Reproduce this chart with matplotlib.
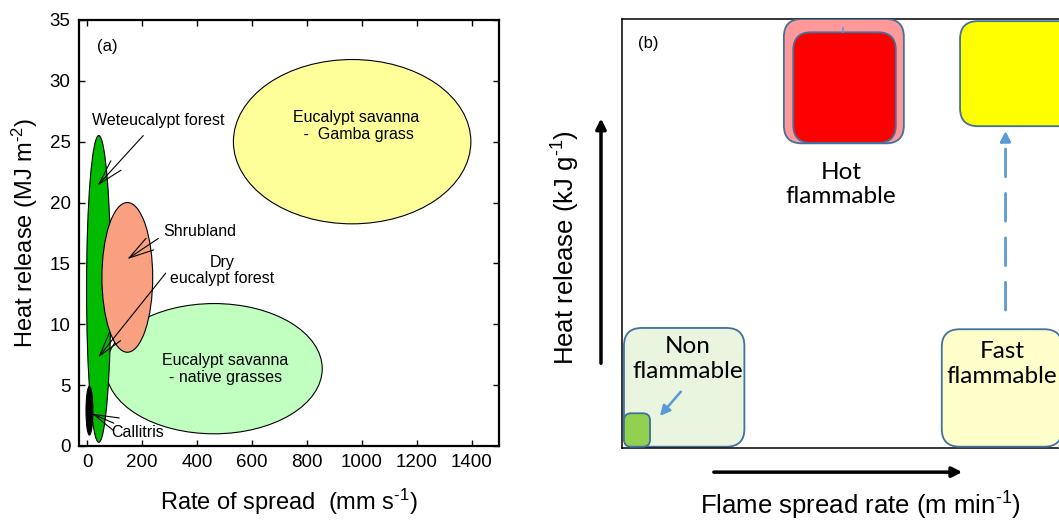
import matplotlib
matplotlib.use('Agg')
import matplotlib.pyplot as plt
from matplotlib.patches import Ellipse, FancyBboxPatch

plt.rcParams['font.family'] = ['Liberation Sans', 'DejaVu Sans']
plt.rcParams['mathtext.fontset'] = 'custom'
plt.rcParams['mathtext.rm'] = 'Liberation Sans'
plt.rcParams['mathtext.default'] = 'regular'

# ---- panel (a) data: ellipses (centre x, centre y, width, height, colour)
veg_names = ['Eucalypt savanna\n -  Gamba grass', 'Eucalypt savanna\n- native grasses',
             'Weteucalypt forest', 'Shrubland', 'Callitris']
ell_x = [965, 462, 42, 146, 8]
ell_y = [25.0, 6.35, 12.9, 13.85, 2.9]
ell_w = [865, 788, 89, 185, 25]
ell_h = [13.5, 10.7, 25.2, 12.3, 4.0]
ell_col = ['#FFFF99', '#C0FFC0', '#00BB00', '#F9A080', '#000000']
ell_order = [0, 1, 2, 3, 4]

# labels with arrows: text x, text y, arrow tail, arrow tip
lab_text = ['Weteucalypt forest', 'Shrubland', 'Dry\neucalypt forest', 'Callitris']
lab_x = [257, 411, 492, 183]
lab_y = [26.7, 17.6, 14.4, 1.1]
tail_x = [204, 259, 286, 97]
tail_y = [25.5, 17.05, 14.2, 1.87]
tip_x = [38, 146, 40, 16]
tip_y = [21.4, 15.35, 7.27, 2.66]

xticks_a = [0, 200, 400, 600, 800, 1000, 1200, 1400]
yticks_a = [0, 5, 10, 15, 20, 25, 30, 35]

# ---- panel (b) data: rounded boxes (x0, y0, width, height, face)
box_x = [0.45, 0.45, 36.3, 38.4, 75.8, 71.7]
box_y = [0.23, 0.23, 71.0, 71.1, 75.0, 0.23]
box_w = [27.0, 5.85, 26.9, 23.0, 27.0, 27.0]
box_h = [27.7, 7.8, 29.0, 25.8, 24.5, 27.4]
box_col = ['#E9F5DF', '#92D050', '#FF9999', '#FF0000', '#FFFF00', '#FFFFCC']
box_text = ['Non\nflammable', 'Hot\nflammable', 'Fast\nflammable']
btext_x = [14.7, 49.1, 85.2]
btext_y = [20.7, 61.4, 19.5]

sup = lambda s: r'$^{\text{' + s + '}}$'

fig = plt.figure(figsize=(10.59, 5.21), dpi=100)

# ================= panel (a)
ax = fig.add_axes([0.0746, 0.1440, 0.3966, 0.8177])
for i in ell_order:
    ax.add_patch(Ellipse((ell_x[i], ell_y[i]), ell_w[i], ell_h[i],
                         facecolor=ell_col[i], edgecolor='black', lw=0.8, zorder=2 + i))
ax.text(ell_x[0] + 16, ell_y[0] + 1.3, veg_names[0], ha='center', va='center',
        fontsize=11.5, linespacing=1.15, zorder=10)
ax.text(503, 6.3, veg_names[1], ha='center', va='center', fontsize=11.5,
        linespacing=1.15, zorder=10)

for i in range(len(lab_text)):
    ax.text(lab_x[i], lab_y[i], lab_text[i], ha='center', va='center',
            fontsize=11.5, linespacing=1.1, zorder=10)
    ax.annotate('', xy=(tip_x[i], tip_y[i]), xytext=(tail_x[i], tail_y[i]),
                arrowprops=dict(arrowstyle='->,head_length=1.8,head_width=0.5',
                                lw=0.8, color='black', mutation_scale=10,
                                shrinkA=0, shrinkB=0), zorder=11)

ax.text(73, 32.8, '(a)', ha='center', va='center', fontsize=12)
ax.set_xlim(-30, 1500)
ax.set_ylim(0, 35)
ax.set_xticks(xticks_a)
ax.set_yticks(yticks_a)
ax.tick_params(direction='in', length=4, width=1, top=True, right=True,
               labelsize=13.5, pad=6)
for s in ax.spines.values():
    s.set_linewidth(1.6)
ax.set_xlabel('Rate of spread  (mm s' + sup('-1') + ')', fontsize=17, labelpad=11)
ax.set_ylabel('Heat release (MJ m' + sup('-2') + ')', fontsize=17, labelpad=7)

# ================= panel (b)
bx = fig.add_axes([0.5873, 0.1407, 0.4212, 0.8228])
bx.set_xlim(0, 100)
bx.set_ylim(0, 100)
bx.set_xticks([])
bx.set_yticks([])
for s in bx.spines.values():
    s.set_linewidth(1.1)

for i in range(len(box_x)):
    rs = 1.6 if i == 1 else 4.0
    bx.add_patch(FancyBboxPatch((box_x[i], box_y[i]), box_w[i], box_h[i],
                                boxstyle='round,pad=0,rounding_size=%g' % rs,
                                mutation_aspect=1.04, facecolor=box_col[i],
                                edgecolor='#41719C', lw=1.3, zorder=2 + i))

bfont = ['Lato', 'DejaVu Sans']
for i in range(len(box_text)):
    bx.text(btext_x[i], btext_y[i], box_text[i], ha='center', va='center',
            fontsize=17.5, linespacing=1.2, family=bfont, zorder=20)

# small blue arrows
bx.annotate('', xy=(8.5, 7.4), xytext=(13.2, 13.06),
            arrowprops=dict(arrowstyle='-|>,head_length=0.6,head_width=0.3',
                            color='#5B9BD5', lw=1.8, mutation_scale=10,
                            shrinkA=0, shrinkB=0), zorder=21)
bx.annotate('', xy=(86.0, 73.9), xytext=(86.0, 32.1),
            arrowprops=dict(arrowstyle='-|>,head_length=0.6,head_width=0.3',
                            color='#5B9BD5', lw=2.0, ls=(0, (10, 6)),
                            mutation_scale=10, shrinkA=0, shrinkB=0), zorder=21)
bx.plot([49.5, 49.5], [96.9, 97.9], color='#5B9BD5', lw=1.2, zorder=21)

bx.text(6.0, 94.2, '(b)', ha='center', va='center', fontsize=12)

# axis arrows outside the box
bx.annotate('', xy=(-0.047, 0.768), xytext=(-0.047, 0.197), xycoords='axes fraction',
            textcoords='axes fraction',
            arrowprops=dict(arrowstyle='-|>,head_length=0.6,head_width=0.3',
                            color='black', lw=2.5, mutation_scale=10,
                            shrinkA=0, shrinkB=0), annotation_clip=False)
bx.annotate('', xy=(0.763, -0.057), xytext=(0.206, -0.057), xycoords='axes fraction',
            textcoords='axes fraction',
            arrowprops=dict(arrowstyle='-|>,head_length=0.6,head_width=0.3',
                            color='black', lw=2.5, mutation_scale=10,
                            shrinkA=0, shrinkB=0), annotation_clip=False)

fig.text(566 / 1059, 1 - 248 / 521, 'Heat release (kJ g' + sup('-1') + ')', rotation=90,
         ha='center', va='center', fontsize=18.5)
fig.text(860 / 1059, 1 - 506 / 521, 'Flame spread rate (m min' + sup('-1') + ')',
         ha='center', va='center', fontsize=18.5)

fig.savefig('out.png', dpi=100)
